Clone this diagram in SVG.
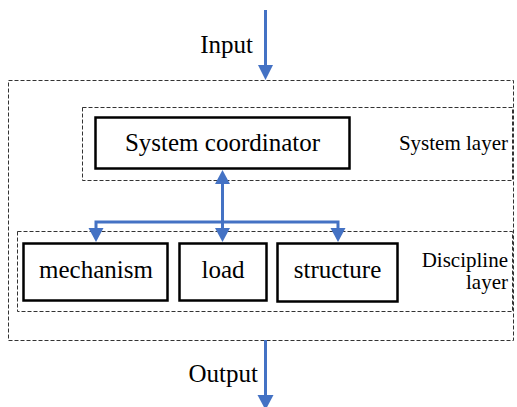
<svg xmlns="http://www.w3.org/2000/svg" width="517" height="407" viewBox="0 0 517 407" font-family="'Liberation Serif', 'Times New Roman', Times, serif">
<style>
.dash{fill:none;stroke:#333;stroke-width:1;stroke-dasharray:4 2}
.box{fill:#fff;stroke:#000;stroke-width:2.5}
.t{font-family:'Liberation Serif','Times New Roman',Times,serif;font-size:25px;fill:#000}
.s{font-family:'Liberation Serif','Times New Roman',Times,serif;font-size:21px;fill:#000}
.c{fill:none;stroke:#4472C4;stroke-width:3}
.h{fill:#4472C4}
</style>
<g id="system-layer-frame">
<rect class="dash" x="8.5" y="80.5" width="505" height="260"/>
</g>
<g id="system-layer">
<rect class="dash" x="82.5" y="107.5" width="430" height="73"/>
<text class="s" x="508" y="150" text-anchor="end">System layer</text>
</g>
<g id="discipline-layer">
<rect class="dash" x="17.5" y="231.5" width="495" height="80"/>
<text class="s" x="508" y="267" text-anchor="end">Discipline</text>
<text class="s" x="508" y="289" text-anchor="end">layer</text>
</g>
<g id="system-coordinator">
<rect class="box" x="95.5" y="117.5" width="254" height="51"/>
<text class="t" x="222.5" y="151" text-anchor="middle">System coordinator</text>
</g>
<g id="mechanism">
<rect class="box" x="23.5" y="243.5" width="144" height="57"/>
<text class="t" x="96" y="278" text-anchor="middle">mechanism</text>
</g>
<g id="load">
<rect class="box" x="179.5" y="243.5" width="87" height="57"/>
<text class="t" x="223" y="278" text-anchor="middle">load</text>
</g>
<g id="structure">
<rect class="box" x="277.5" y="243.5" width="120" height="58"/>
<text class="t" x="337.5" y="278" text-anchor="middle">structure</text>
</g>
<g id="connectors">
<line class="c" x1="265.5" y1="10" x2="265.5" y2="66"/>
<polygon class="h" points="258,65 273,65 265.5,80"/>
<text class="t" x="253" y="53" text-anchor="end">Input</text>
<line class="c" x1="222.5" y1="183" x2="222.5" y2="229"/>
<polygon class="h" points="215,184 230,184 222.5,170"/>
<polyline class="c" points="96,229 96,222 338,222 338,229"/>
<polygon class="h" points="88.5,228 103.5,228 96,242"/>
<polygon class="h" points="215,228 230,228 222.5,242"/>
<polygon class="h" points="330.5,228 345.5,228 338,242"/>
<line class="c" x1="265.5" y1="340" x2="265.5" y2="396"/>
<polygon class="h" points="257.5,395 273.5,395 265.5,410"/>
<text class="t" x="258" y="382" text-anchor="end">Output</text>
</g>
</svg>
